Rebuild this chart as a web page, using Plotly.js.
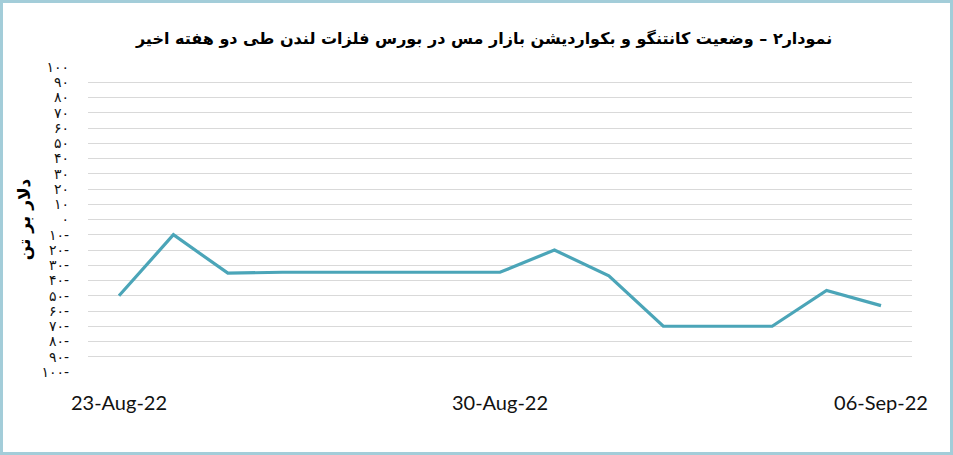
<!DOCTYPE html>
<html>
<head>
<meta charset="utf-8">
<script src="https://cdn.plot.ly/plotly-3.0.1.min.js"></script>
<style>
  html, body { margin: 0; padding: 0; background: #fff; }
  #wrap { position: relative; width: 953px; height: 455px; }
  #chart { width: 953px; height: 455px; }
  #frame { position: absolute; left: 0; top: 0; width: 953px; height: 455px; box-sizing: border-box;
           border: 3px solid #A3CDD9; pointer-events: none; }
</style>
</head>
<body>
<div id="wrap">
  <div id="chart"></div>
  <div id="frame"></div>
</div>
<script>
// Data
const dates = ['2022-08-23', '2022-08-24', '2022-08-25', '2022-08-26', '2022-08-30',
               '2022-08-31', '2022-09-01', '2022-09-02', '2022-09-04', '2022-09-05', '2022-09-06'];
const values = [-50, -10, -35.2, -34.6, -34.6, -20, -37, -70, -70, -46.5, -56.5];

const xTickVals = ['2022-08-23', '2022-08-30', '2022-09-06'];
const xTickText = ['23-Aug-22', '30-Aug-22', '06-Sep-22'];

const yTickVals = [100, 90, 80, 70, 60, 50, 40, 30, 20, 10, 0, -10, -20, -30, -40, -50, -60, -70, -80, -90, -100];
const yTickText = ['۱۰۰', '۹۰', '۸۰', '۷۰', '۶۰', '۵۰', '۴۰', '۳۰', '۲۰', '۱۰', '۰',
                   '۱۰-', '۲۰-', '۳۰-', '۴۰-', '۵۰-', '۶۰-', '۷۰-', '۸۰-', '۹۰-', '۱۰۰-'];

const chartTitle = 'نمودار۲ – وضعیت کانتنگو و بکواردیشن بازار مس در بورس فلزات لندن طی دو هفته اخیر';
const yTitle = 'دلار بر تن';

const trace = {
  x: dates,
  y: values,
  type: 'scatter',
  mode: 'lines',
  line: { color: '#4BA5B8', width: 3.2 },
  hoverinfo: 'skip'
};

const layout = {
  width: 953,
  height: 455,
  paper_bgcolor: '#ffffff',
  plot_bgcolor: '#ffffff',
  margin: { l: 88, r: 41, t: 67, b: 83 },
  showlegend: false,
  title: {
    text: chartTitle,
    x: 0.508,
    xanchor: 'center',
    y: 0.915,
    yanchor: 'middle',
    font: { family: 'DejaVu Sans', size: 16, color: '#000000', weight: 'bold' }
  },
  xaxis: {
    type: 'date',
    range: ['2022-08-22 10:20', '2022-09-06 13:40'],
    tickmode: 'array',
    tickvals: xTickVals,
    ticktext: xTickText,
    showgrid: false,
    zeroline: false,
    showline: false,
    ticks: '',
    ticklabelstandoff: 17,
    tickfont: { family: 'Lato', size: 20, color: '#111111' }
  },
  yaxis: {
    range: [-100, 100],
    tickmode: 'array',
    tickvals: yTickVals,
    ticktext: yTickText,
    showgrid: true,
    gridcolor: '#D9D9D9',
    gridwidth: 1,
    zeroline: false,
    showline: false,
    ticks: '',
    ticklabelstandoff: 18,
    tickfont: { family: 'DejaVu Sans', size: 14, color: '#111111' },
    title: {
      text: yTitle,
      standoff: 6,
      font: { family: 'DejaVu Sans', size: 17, color: '#000000', weight: 'bold' }
    }
  }
};

Plotly.newPlot('chart', [trace], layout, { displayModeBar: false, staticPlot: true });
</script>
</body>
</html>
